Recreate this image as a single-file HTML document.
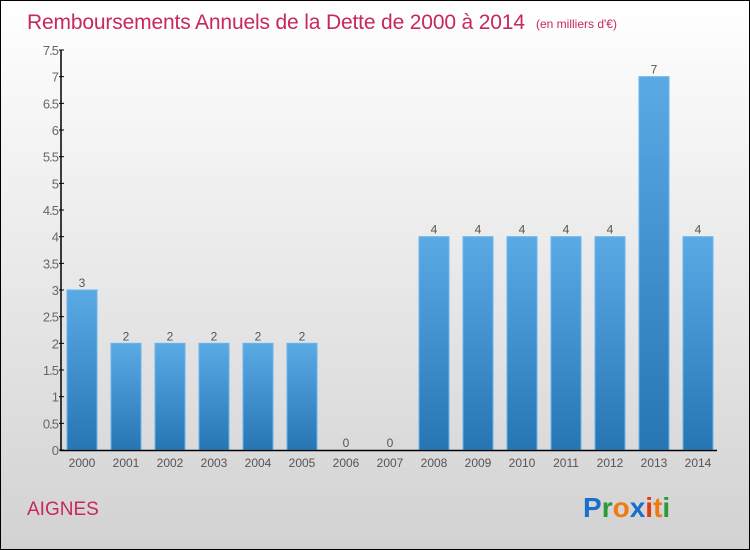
<!DOCTYPE html>
<html><head><meta charset="utf-8"><style>
body{margin:0}
#c{position:relative;width:748px;height:548px;border:1px solid #000;background:linear-gradient(#fff,#d2d2d2);font-family:"Liberation Sans",sans-serif;overflow:hidden}
</style></head><body>
<div id="c">
<svg width="748" height="548" id="s">
<defs><linearGradient id="g" x1="0" y1="0" x2="0" y2="1"><stop offset="0" stop-color="#5aaae6"/><stop offset="1" stop-color="#2676b4"/></linearGradient></defs>
<text x="26" y="28" font-size="21" fill="#c8285a" textLength="498">Remboursements Annuels de la Dette de 2000 à 2014</text>
<text x="535" y="27" font-size="12" fill="#c8285a">(en milliers d'€)</text>
<text x="26" y="514" font-size="19" fill="#c8285a">AIGNES</text>
<text x="582" y="516" font-size="28" font-weight="bold"><tspan fill="#1a6ecc">P</tspan><tspan fill="#2a9a3a">r</tspan><tspan fill="#f07a10">o</tspan><tspan fill="#1a6ecc">x</tspan><tspan fill="#e03a10">i</tspan><tspan fill="#f07a10">t</tspan><tspan fill="#2a9a3a">i</tspan></text>
<g id="plot"></g>
</svg></div>
<script>
const years=["2000","2001","2002","2003","2004","2005","2006","2007","2008","2009","2010","2011","2012","2013","2014"];
const values=[3,2,2,2,2,2,0,0,4,4,4,4,4,7,4];
const ticks=["0","0.5","1","1.5","2","2.5","3","3.5","4","4.5","5","5.5","6","6.5","7","7.5"];
const NS="http://www.w3.org/2000/svg",p=document.getElementById('plot');
const y=v=>449-v*(400/7.5), x=i=>81+i*44;
function el(t,a,txt){const e=document.createElementNS(NS,t);for(const k in a)e.setAttribute(k,a[k]);if(txt!=null)e.textContent=txt;p.appendChild(e);return e;}
values.forEach((v,i)=>{
 const b=el('rect',{x:x(i)-15,y:y(v),width:30,height:449-y(v),fill:'url(#g)',stroke:'#6ab4ee','stroke-width':1});
 
 
 const l=el('text',{x:x(i),y:y(v)-3,'font-size':12,fill:'#555','text-anchor':'middle'},String(v));
 
 
 const t=el('text',{x:x(i),y:466,'font-size':12,fill:'#555','text-anchor':'middle'},years[i]);
 
 
});
ticks.forEach(s=>{
 const v=parseFloat(s);
 const tk=el('line',{x1:58,x2:63,y1:y(v),y2:y(v),stroke:'#000'});
 
 
 const t=el('text',{x:57,y:y(v)+5,'font-size':13,fill:'#666','text-anchor':'end','letter-spacing':'-1'},s);
 
 
});
const ya=el('line',{x1:60,x2:60,y1:49,y2:450,stroke:'#000','stroke-width':1.5});


const xa=el('line',{x1:59,x2:716,y1:449.5,y2:449.5,stroke:'#000','stroke-width':1.5});


</script>
</body></html>
